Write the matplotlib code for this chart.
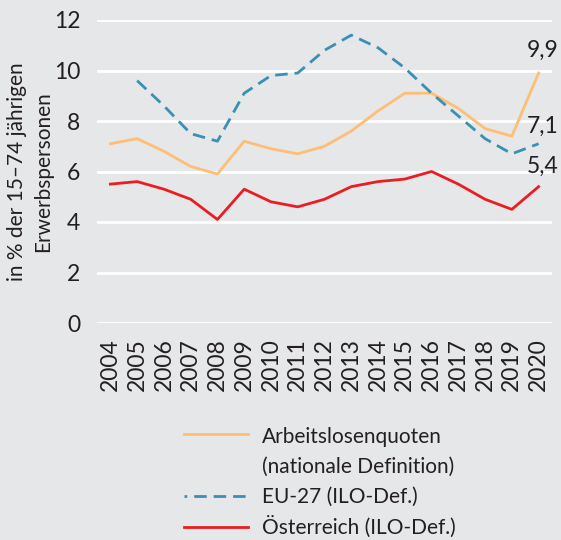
import matplotlib
matplotlib.use("Agg")
import matplotlib.pyplot as plt
from matplotlib.lines import Line2D

plt.rcParams['font.family'] = ['Lato', 'DejaVu Sans']

years = list(range(2004, 2021))
national = [7.1, 7.3, 6.8, 6.2, 5.9, 7.2, 6.9, 6.7, 7.0, 7.6, 8.4, 9.1, 9.1, 8.5, 7.7, 7.4, 9.9]
eu_years = list(range(2005, 2021))
eu27 = [9.6, 8.6, 7.5, 7.2, 9.1, 9.8, 9.9, 10.8, 11.4, 10.9, 10.1, 9.1, 8.2, 7.3, 6.7, 7.1]
austria = [5.5, 5.6, 5.3, 4.9, 4.1, 5.3, 4.8, 4.6, 4.9, 5.4, 5.6, 5.7, 6.0, 5.5, 4.9, 4.5, 5.4]
yticks = [0, 2, 4, 6, 8, 10, 12]
labels = ["Arbeitslosenquoten\n(nationale Definition)", "EU-27 (ILO-Def.)", "Österreich (ILO-Def.)"]
end_labels = ["9,9", "7,1", "5,4"]

bg = "#e6e7e8"
c_orange = "#fdbf75"
c_blue = "#3a8fb5"
c_red = "#ec1c24"
tc = "#231f20"
fs = 15
fsn = 16.5

fig = plt.figure(figsize=(5.61, 5.40), dpi=100, facecolor=bg)
ax = fig.add_axes([97/561, 1-323/540, (552-97)/561, (323-20)/540], facecolor=bg)

ax.set_ylim(0, 12)
ax.set_xlim(2003.5, 2020.5)
ax.set_yticks(yticks)
ax.set_yticklabels([str(t) for t in yticks])
ax.set_xticks(years)
ax.set_xticklabels([str(y) for y in years], rotation=90)
ax.grid(axis='y', color='white', linewidth=2)
ax.set_axisbelow(True)
for s in ax.spines.values():
    s.set_visible(False)
ax.tick_params(axis='both', length=0, labelsize=fsn, colors=tc)
ax.tick_params(axis='y', pad=12)
ax.tick_params(axis='x', pad=11)

lw = 2.0
ax.plot(years, national, color=c_orange, lw=lw, clip_on=False, zorder=3)
ax.plot(eu_years, eu27, color=c_blue, lw=lw, linestyle=(0, (4.5, 2.5)), clip_on=False, zorder=3)
ax.plot(years, austria, color=c_red, lw=lw, clip_on=False, zorder=4)

ends = [national[-1], eu27[-1], austria[-1]]
offs = [9, 5, 7]
for v, lab, o in zip(ends, end_labels, offs):
    ax.annotate(lab, (years[-1], v), xytext=(3, o), textcoords='offset points',
                ha='center', va='bottom', fontsize=fsn, color=tc, annotation_clip=False)

ax.set_ylabel("in % der 15–74 jährigen\nErwerbspersonen", fontsize=fs, color=tc,
              linespacing=1.4, va='center', ha='center')
ax.yaxis.set_label_coords((30 - 97) / 455, 0.5)

# legend drawn manually
W, H = 561, 540
def fy(py):
    return 1 - py / H
x0, x1, xt = 184/W, 248/W, 262/W
fig.add_artist(Line2D([x0, x1], [fy(434), fy(434)], color=c_orange, lw=lw, transform=fig.transFigure))
fig.add_artist(Line2D([x0, x1], [fy(496), fy(496)], color=c_blue, lw=lw, linestyle=(3.5, (4.5, 2.5)), transform=fig.transFigure))
fig.add_artist(Line2D([x0, x1], [fy(527), fy(527)], color=c_red, lw=lw, transform=fig.transFigure))
fig.text(xt, fy(437), labels[0].split("\n")[0], fontsize=fs, color=tc, va='center', ha='left')
fig.text(xt, fy(467), labels[0].split("\n")[1], fontsize=fs, color=tc, va='center', ha='left')
fig.text(xt, fy(497), labels[1], fontsize=fs, color=tc, va='center', ha='left')
fig.text(xt, fy(527), labels[2], fontsize=fs, color=tc, va='center', ha='left')

fig.savefig("out.png", dpi=100, facecolor=bg)
